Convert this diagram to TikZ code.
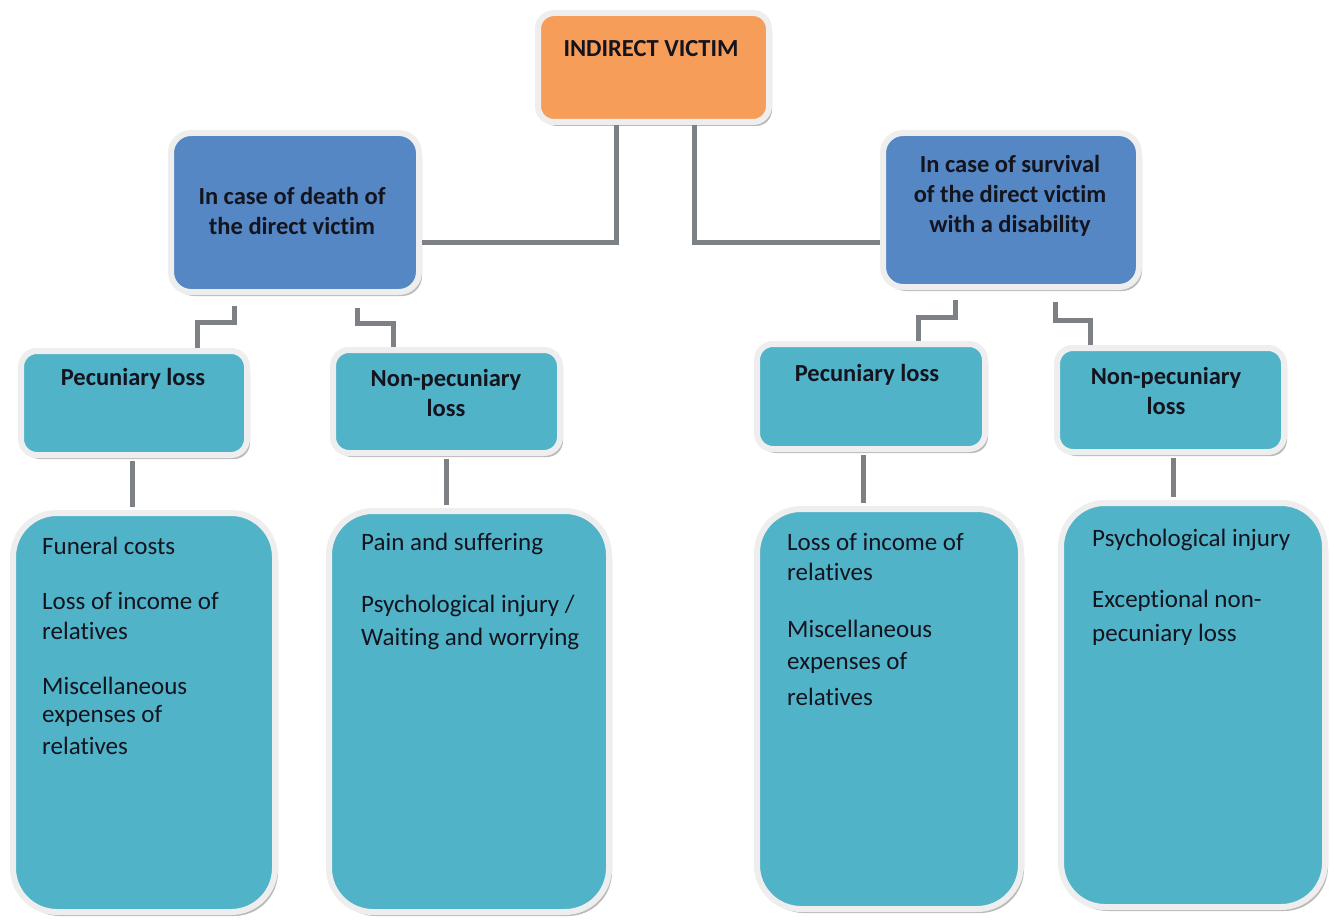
\documentclass[tikz,border=0pt]{standalone}
\usepackage{fontspec}
\setmainfont{Carlito}[Ligatures={NoCommon}]
\usetikzlibrary{shadows,calc}
\definecolor{orangefill}{RGB}{247,157,90}
\definecolor{bluefill}{RGB}{85,135,196}
\definecolor{tealfill}{RGB}{80,179,200}
\definecolor{rim}{RGB}{238,238,238}
\definecolor{wire}{RGB}{125,128,132}
\definecolor{ink}{RGB}{20,20,30}
\tikzset{
  box/.style={draw=rim, line width=6pt, rounded corners=16pt, inner sep=0pt,
    drop shadow={shadow xshift=3pt, shadow yshift=-4pt, fill=black!45, opacity=0.6}},
  topbox/.style={box, fill=orangefill},
  midbox/.style={box, fill=bluefill, rounded corners=20pt},
  lossbox/.style={box, fill=tealfill, rounded corners=16pt},
  bigbox/.style={box, fill=tealfill, rounded corners=44pt},
  head/.style={font=\fontsize{24.5}{30}\selectfont\bfseries, text=ink, align=center, inner sep=0pt},
  item/.style={font=\fontsize{25}{30}\selectfont, text=ink, anchor=west, inner sep=0pt},
  wirel/.style={draw=wire, line width=5pt}
}
\begin{document}
\begin{tikzpicture}[x=1pt,y=-1pt]
\useasboundingbox[fill=white] (0,0) rectangle (1338,920);
% boxes
\node[topbox, minimum width=231pt, minimum height=109pt] (iv) at (653.5,67.5) {};
\node[midbox, minimum width=248pt, minimum height=159pt] (dl) at (295,212.5) {};
\node[midbox, minimum width=256pt, minimum height=154pt] (sr) at (1011,210) {};
\node[lossbox, minimum width=226pt, minimum height=104pt] (p1) at (134,403) {};
\node[lossbox, minimum width=227pt, minimum height=103pt] (n1) at (446.5,401.5) {};
\node[lossbox, minimum width=228pt, minimum height=105pt] (p2) at (871,396.5) {};
\node[lossbox, minimum width=227pt, minimum height=104pt] (n2) at (1170.5,400) {};
\node[bigbox, minimum width=262pt, minimum height=399pt] (b1) at (144,712.5) {};
\node[bigbox, minimum width=280pt, minimum height=401pt] (b2) at (469,711.5) {};
\node[bigbox, minimum width=264pt, minimum height=400pt] (b3) at (889,709) {};
\node[bigbox, minimum width=264pt, minimum height=404pt] (b4) at (1193,705) {};
% headings
\node[head] (tiv) at (651,49) {INDIRECT VICTIM};
\node[head] (tdl) at (292,211) {In case of death of\\the direct victim};
\node[head] (tsr) at (1010,196) {In case of survival\\of the direct victim\\with a disability};
\node[head] (tp1) at (133,379) {Pecuniary loss};
\node[head] (tn1) at (446,392.5) {Non-pecuniary\\loss};
\node[head] (tp2) at (867,375) {Pecuniary loss};
\node[head] (tn2) at (1166,390.5) {Non-pecuniary\\loss};
% items
\node[item] (a1) at (42,546) {Funeral costs};
\node[item] (a2) at (42,601) {Loss of income of};
\node[item] (a3) at (42,631) {relatives};
\node[item] (a4) at (42,686) {Miscellaneous};
\node[item] (a5) at (42,716) {expenses of};
\node[item] (a6) at (42,746) {relatives};
\node[item] (c1) at (361,544) {Pain and suffering};
\node[item] (c2) at (361,606) {Psychological injury /};
\node[item] (c3) at (361,639) {Waiting and worrying};
\node[item] (d1) at (787,542) {Loss of income of};
\node[item] (d2) at (787,572) {relatives};
\node[item] (d3) at (787,629) {Miscellaneous};
\node[item] (d4) at (787,663) {expenses of};
\node[item] (d5) at (787,697) {relatives};
\node[item] (e1) at (1092,540) {Psychological injury};
\node[item] (e2) at (1092,601) {Exceptional non-};
\node[item] (e3) at (1092,635) {pecuniary loss};
% connectors
\coordinate (ivl) at (616,0);
\coordinate (ivr) at (694,0);
\draw[wirel] (iv.south -| ivl) -- ++(0,117.5) coordinate (kl) -- (kl -| dl.east);
\draw[wirel] (iv.south -| ivr) -- ++(0,117.5) coordinate (kr) -- (kr -| sr.west);
% left death box to losses
\coordinate (d1x) at (234,0);
\coordinate (d2x) at (357,0);
\draw[wirel] ($(dl.south -| d1x)+(0,11)$) -- ++(0,16) -| ($(p1.north)+(63,0)$);
\draw[wirel] ($(dl.south -| d2x)+(0,13)$) -- ++(0,15) -| ($(n1.north)+(-53.5,0)$);
% right survival box to losses
\coordinate (s1x) at (955,0);
\coordinate (s2x) at (1055,0);
\draw[wirel] ($(sr.south -| s1x)+(0,10)$) -- ++(0,17) -| ($(p2.north)+(47,0)$);
\draw[wirel] ($(sr.south -| s2x)+(0,12)$) -- ++(0,18) -| ($(n2.north)+(-80.5,0)$);
% losses to detail boxes
\draw[wirel] ($(p1.south)+(-2,3)$) -- ($(b1.north)+(-12,-3)$);
\draw[wirel] ($(n1.south)+(-0.5,3)$) -- ($(b2.north)+(-23,-3)$);
\draw[wirel] ($(p2.south)+(-8,3)$) -- ($(b3.north)+(-26,-3)$);
\draw[wirel] ($(n2.south)+(2.5,3)$) -- ($(b4.north)+(-20,-3)$);
\end{tikzpicture}
\end{document}
